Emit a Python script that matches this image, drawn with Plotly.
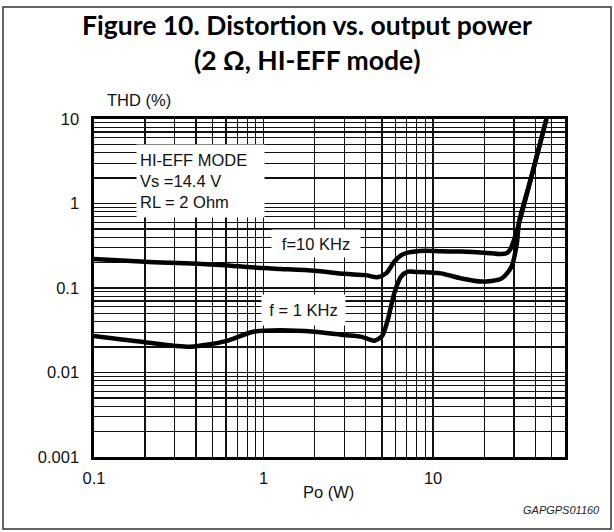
import plotly.graph_objects as go

# ---- data ----
po_10k = [0.1, 0.2, 0.5, 1.0, 1.26, 2, 3, 4, 4.7, 5.3, 5.9, 6.5, 7.1, 8.9, 11.1, 14.6, 20, 25.3, 27.5, 29, 31.7, 38, 46.6]
thd_10k = [0.22, 0.205, 0.19, 0.172, 0.168, 0.16, 0.147, 0.142, 0.134, 0.15, 0.205, 0.245, 0.262, 0.276, 0.272, 0.27, 0.262, 0.252, 0.262, 0.308, 0.53, 2.07, 10]

po_1k = [0.1, 0.2, 0.37, 0.6, 0.87, 1.26, 2, 3, 3.75, 4.5, 5.0, 5.4, 5.9, 6.47, 7.08, 8, 11.1, 14.6, 19.2, 25.3, 29, 31.2, 32.2, 38, 46.6]
thd_1k = [0.027, 0.0228, 0.0202, 0.0235, 0.0304, 0.0317, 0.0304, 0.0278, 0.0266, 0.0238, 0.027, 0.0418, 0.0865, 0.136, 0.156, 0.155, 0.149, 0.130, 0.119, 0.129, 0.179, 0.338, 0.62, 2.07, 10]

decades_x = [0.1, 1, 10]
decade_labels_x = ["0.1", "1", "10"]
decades_y = [0.001, 0.01, 0.1, 1, 10]
decade_labels_y = ["0.001", "0.01", "0.1", "1", "10"]

title_lines = ["Figure 10. Distortion vs. output power", "(2 Ω, HI-EFF mode)"]
cond_text = "HI-EFF MODE<br>Vs =14.4 V<br>RL = 2 Ohm"
label_10k = "f=10 KHz"
label_1k = "f = 1 KHz"

# ---- build tick/grid lists from the decades ----
def grid(decades, top):
    vals = []
    for d in decades:
        for m in range(1, 10):
            v = round(d * m, 6)
            if v <= top:
                vals.append(v)
    return vals

xvals = grid(decades_x, 60)
xtexts = [decade_labels_x[decades_x.index(v)] if v in decades_x else "" for v in xvals]
yvals = grid(decades_y[:-1], 10) + [decades_y[-1]]
ytexts = [decade_labels_y[decades_y.index(v)] if v in decades_y else "" for v in yvals]

FONT = "Liberation Sans, Arial, sans-serif"
TFONT = "Lato, Open Sans, sans-serif"

fig = go.Figure()
for xs, ys in [(po_10k, thd_10k), (po_1k, thd_1k)]:
    fig.add_trace(go.Scatter(
        x=xs, y=ys, mode="lines",
        line=dict(color="black", width=4.5, shape="spline", smoothing=0.7),
        showlegend=False, hoverinfo="skip", cliponaxis=True,
    ))

axis_common = dict(
    type="log", showgrid=True, gridcolor="#111111", gridwidth=1.2,
    showline=True, linecolor="black", linewidth=2.6, mirror=True,
    ticks="", zeroline=False,
    tickfont=dict(family=FONT, size=16.5, color="#111111"),
)
fig.update_xaxes(range=[-1, 1.778], tickmode="array", tickvals=xvals, ticktext=xtexts,
                 ticklabelstandoff=5, **axis_common)
fig.update_yaxes(range=[-3, 1], tickmode="array", tickvals=yvals, ticktext=ytexts,
                 ticklabelstandoff=9, **axis_common)

ann = []
ann.append(dict(text="<b>%s</b>" % title_lines[0], x=0.452, y=1.278, xref="paper", yref="paper",
                xanchor="center", yanchor="middle", showarrow=False,
                font=dict(family=TFONT, size=26.5, color="black")))
ann.append(dict(text="<b>%s</b>" % title_lines[1], x=0.452, y=1.1746, xref="paper", yref="paper",
                xanchor="center", yanchor="middle", showarrow=False,
                font=dict(family=TFONT, size=26.5, color="black")))
ann.append(dict(text="THD (%)", x=0.0234, y=1.056, xref="paper", yref="paper",
                xanchor="left", yanchor="middle", showarrow=False,
                font=dict(family=FONT, size=16.5, color="#111111")))
ann.append(dict(text="Po (W)", x=0.497, y=-0.1036, xref="paper", yref="paper",
                xanchor="center", yanchor="middle", showarrow=False,
                font=dict(family=FONT, size=16.5, color="#111111")))
ann.append(dict(text="<i>GAPGPS01160</i>", x=1.0786, y=-0.1568, xref="paper", yref="paper",
                xanchor="right", yanchor="middle", showarrow=False,
                font=dict(family=FONT, size=11, color="#222222")))
ann.append(dict(text=cond_text, x=0.2261, y=0.8166, xref="paper", yref="paper",
                xanchor="center", yanchor="middle", showarrow=False, align="left",
                width=121, height=66, borderpad=3, bgcolor="white",
                font=dict(family=FONT, size=16.5, color="#111111")))
ann.append(dict(text=label_10k, x=0.4713, y=0.6317, xref="paper", yref="paper",
                xanchor="center", yanchor="middle", showarrow=False, align="center",
                width=82, height=21, borderpad=3, bgcolor="white",
                font=dict(family=FONT, size=16.5, color="#111111")))
ann.append(dict(text=label_1k, x=0.4448, y=0.4349, xref="paper", yref="paper",
                xanchor="center", yanchor="middle", showarrow=False, align="center",
                width=77, height=24, borderpad=3, bgcolor="white",
                font=dict(family=FONT, size=16.5, color="#111111")))

fig.update_layout(
    width=614, height=532,
    margin=dict(l=94, r=49, t=119, b=75),
    paper_bgcolor="white", plot_bgcolor="white",
    annotations=ann,
    shapes=[dict(type="rect", xref="paper", yref="paper",
                 x0=-0.1932, x1=1.0977, y0=-0.213, y1=1.3314,
                 line=dict(color="#333333", width=1.5), layer="below")],
)

fig.write_html("out.html",
               config={"displayModeBar": False, "staticPlot": True},
               post_script="document.body.style.margin='0';document.body.style.overflow='hidden';")
